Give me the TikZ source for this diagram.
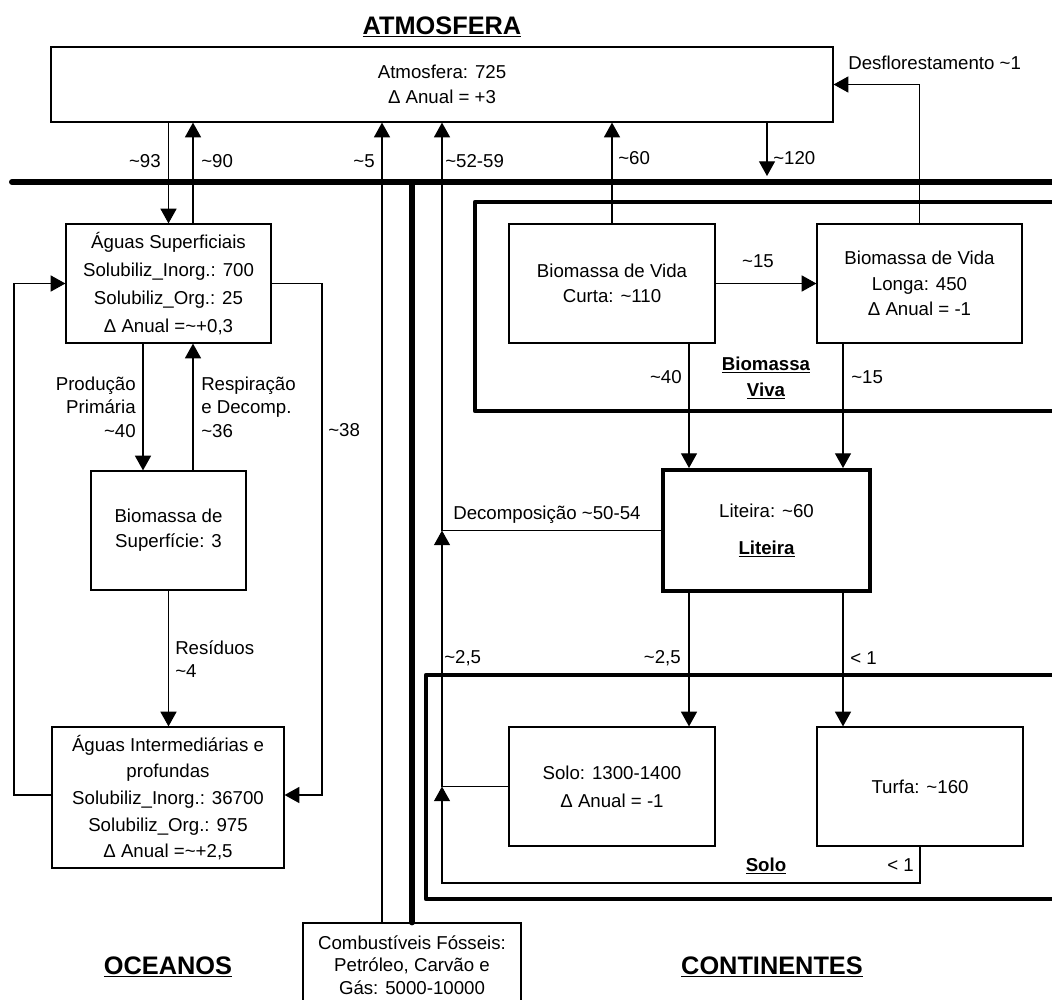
\documentclass[tikz,border=0pt]{standalone}
\usepackage{fontspec}
\setmainfont{Liberation Sans}
\usetikzlibrary{arrows.meta}
\newcommand{\apx}{\textasciitilde}

\begin{document}
\begin{tikzpicture}[x=0.75pt,y=-0.75pt,
  every node/.style={font=\fontsize{14}{19}\selectfont},
  flow/.style={draw,line width=0.9pt,-{Triangle[length=11pt,width=12pt]}},
  cbox/.style={draw,line width=0.9pt,fill=white,align=center,inner sep=0pt},
  thickbox/.style={cbox,line width=3pt},
  divider/.style={line width=4.5pt,line cap=round},
  groupbox/.style={draw,line width=3.4pt,line join=round},
  lbl/.style={inner sep=0pt,align=left},
  ttl/.style={inner sep=0pt,align=center,font=\fontsize{19}{22}\selectfont\bfseries},
  sub/.style={inner sep=0pt,align=center,font=\fontsize{14}{19}\selectfont\bfseries}]
  \useasboundingbox (0,0) rectangle (1052,999);

  \node[cbox,minimum width=586.5pt,minimum height=56.25pt] (atm) at (442,84.5)
    {Atmosfera: 725\\Δ Anual = +3};
  \node[cbox,minimum width=153.75pt,minimum height=89.25pt,
    font=\fontsize{14}{21}\selectfont] (sup) at (168.5,283.5)
    {Águas Superficiais\\Solubiliz\_Inorg.: 700\\Solubiliz\_Org.: 25\\Δ Anual =\apx+0,3};
  \node[cbox,minimum width=116.25pt,minimum height=89.25pt] (bsup) at (168.5,530.5)
    {Biomassa de\\Superfície: 3};
  \node[cbox,minimum width=174pt,minimum height=105.75pt,
    font=\fontsize{14}{20}\selectfont] (prof) at (168,797.5)
    {Águas Intermediárias e\\profundas\\Solubiliz\_Inorg.: 36700\\Solubiliz\_Org.: 975\\Δ Anual =\apx+2,5};
  \node[cbox,minimum width=163.5pt,minimum height=63pt,
    font=\fontsize{14}{17}\selectfont] (fossil) at (412,965)
    {Combustíveis Fósseis:\\Petróleo, Carvão e\\Gás: 5000-10000};
  \node[cbox,minimum width=154.5pt,minimum height=89.25pt] (bvc) at (612,283.5)
    {Biomassa de Vida\\Curta: \apx110};
  \node[cbox,minimum width=153.75pt,minimum height=89.25pt] (bvl) at (919.5,283.5)
    {Biomassa de Vida\\Longa: 450\\Δ Anual = -1};
  \node[thickbox,minimum width=155.25pt,minimum height=90.75pt] (lit) at (766.5,530.5)
    {Liteira: \apx60\\[9pt]\textbf{\underline{Liteira}}};
  \node[cbox,minimum width=154.5pt,minimum height=89.25pt,
    font=\fontsize{14}{21}\selectfont] (solo) at (612,786.5)
    {Solo: 1300-1400\\Δ Anual = -1};
  \node[cbox,minimum width=154.5pt,minimum height=89.25pt] (turfa) at (920,786.5)
    {Turfa: \apx160};
  \coordinate (c120) at (767,176);

  \node[ttl] (tatm) at (442,27) {\underline{ATMOSFERA}};
  \node[ttl] (toce) at (168,967) {\underline{OCEANOS}};
  \node[ttl] (tcont) at (772,967) {\underline{CONTINENTES}};
  \node[sub] (tviva) at (766,378) {\underline{Biomassa}\\\underline{Viva}};
  \node[sub] (tsolo) at (766,866) {\underline{Solo}};

  \node[lbl,anchor=east] (l93) at (161,161) {\apx93};
  \node[lbl,anchor=west] (l90) at (201,161) {\apx90};
  \node[lbl,anchor=east] (l5) at (375,161) {\apx5};
  \node[lbl,anchor=west] (l5259) at (445,161) {\apx52-59};
  \node[lbl,anchor=west] (l60) at (618,158) {\apx60};
  \node[lbl,anchor=west] (l120) at (773,158) {\apx120};
  \node[lbl,anchor=west] (ldesf) at (848,63) {Desflorestamento \apx1};
  \node[lbl] (l15a) at (758,261) {\apx15};
  \node[lbl,anchor=east] (l40) at (682,377) {\apx40};
  \node[lbl,anchor=west] (l15b) at (851,377) {\apx15};
  \node[lbl,anchor=west] (ldec) at (453,515) {Decomposição \apx50-54};
  \node[lbl,anchor=east,align=right,font=\fontsize{14}{17.6}\selectfont] (lprod) at (136,407)
    {Produção\\Primária\\\apx40};
  \node[lbl,anchor=west,font=\fontsize{14}{17.6}\selectfont] (lresp) at (201,407)
    {Respiração\\e Decomp.\\\apx36};
  \node[lbl,anchor=west] (l38) at (328,430) {\apx38};
  \node[lbl,anchor=west,font=\fontsize{14}{17.6}\selectfont] (lres) at (175,659)
    {Resíduos\\\apx4};
  \node[lbl,anchor=west] (l25a) at (444,658) {\apx2,5};
  \node[lbl,anchor=east] (l25b) at (681,658) {\apx2,5};
  \node[lbl,anchor=west] (l1a) at (850,658) {< 1};
  \node[lbl,anchor=west] (l1b) at (887,865) {< 1};

  \draw[groupbox] (1070,202) -| (475,411) -- (1070,411);
  \draw[groupbox] (1070,675) -| (426,899) -- (1070,899);
  \draw[divider] (12,182) -- (1070,182);
  \draw[divider] (412,182) -- (fossil.north);

  \draw[flow] (atm.south -| sup.north) -- (sup.north);
  \draw[flow] (sup.north -| 193,0) -- (atm.south -| 193,0);
  \draw[flow] (fossil.north -| 382,0) -- (atm.south -| 382,0);
  \draw[flow] (lit.west) -| (atm.south -| 442,0);
  \draw[flow] (bvc.north) -- (atm.south -| bvc.north);
  \draw[flow] (atm.south -| c120) -- (c120);
  \draw[flow] (bvl.north) |- (atm.east);
  \draw[flow] (bvc.east) -- (bvl.west);
  \draw[flow] (bvc.south -| 689,0) -- (lit.north -| 689,0);
  \draw[flow] (bvl.south -| 843,0) -- (lit.north -| 843,0);
  \draw[flow] (lit.south -| 689,0) -- (solo.north -| 689,0);
  \draw[flow] (lit.south -| 843,0) -- (turfa.north -| 843,0);
  \draw[flow] (solo.west) -| (lit.west -| 442,0);
  \draw[flow] (turfa.south) |- (442,883) -- (solo.west -| 442,0);
  \draw[flow] (sup.south -| 143,0) -- (bsup.north -| 143,0);
  \draw[flow] (bsup.north -| 193,0) -- (sup.south -| 193,0);
  \draw[flow] (bsup.south) -- (prof.north -| bsup.south);
  \draw[flow] (sup.east) -| (322,795) -- (prof.east |- 322,795);
  \draw[flow] (prof.west |- 14,795) -- (14,795) |- (sup.west);
\end{tikzpicture}
\end{document}
